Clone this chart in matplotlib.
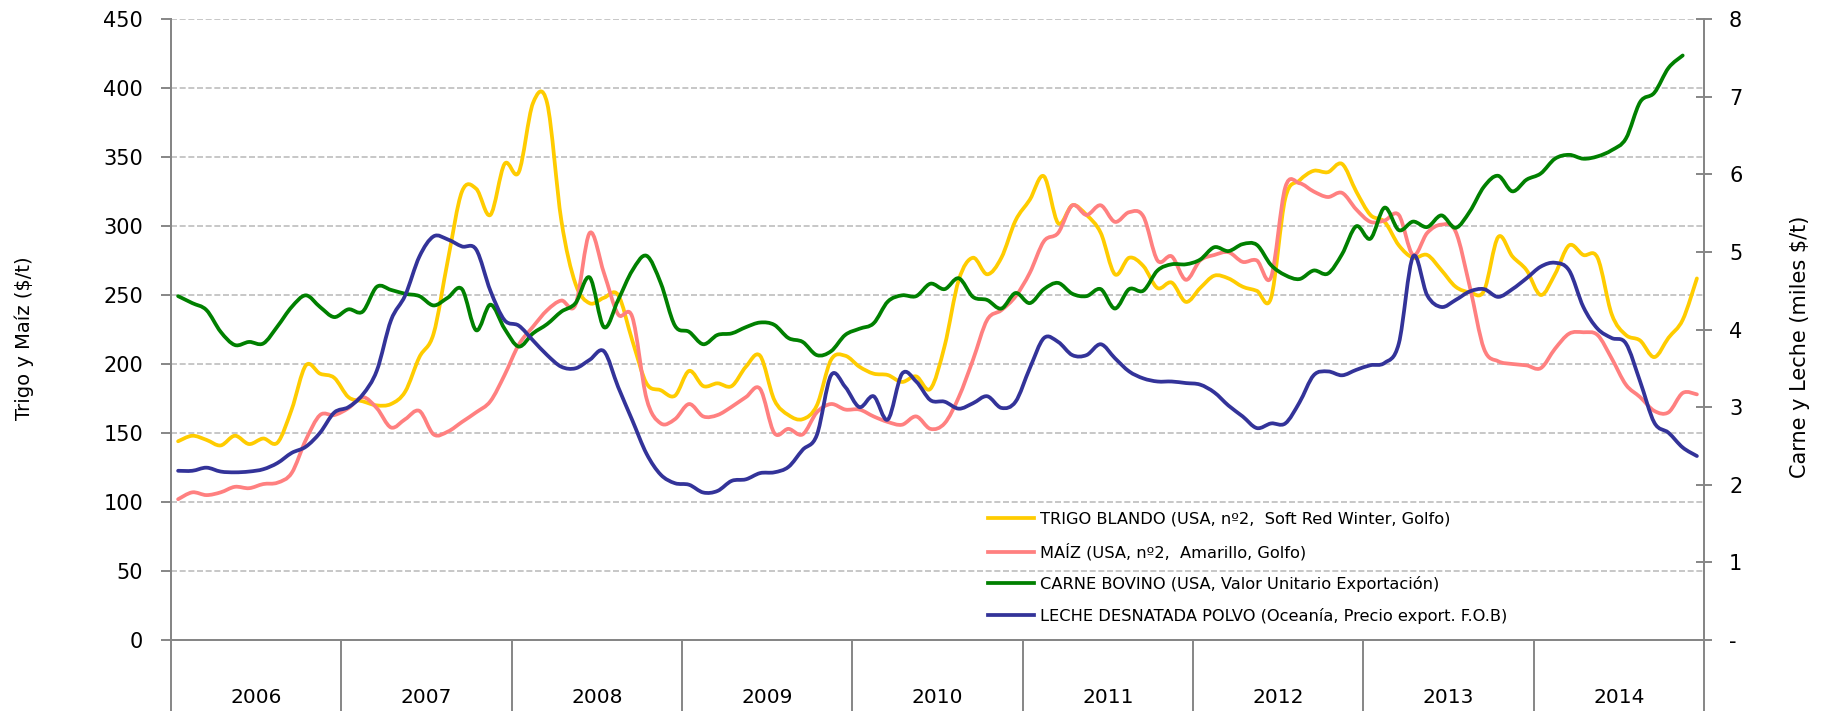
import matplotlib
matplotlib.use("Agg")
import matplotlib.pyplot as plt
from matplotlib.path import Path
from matplotlib.patches import PathPatch
from matplotlib.lines import Line2D
import matplotlib.transforms as mtransforms
import numpy as np

# ---------------- data (monthly, Jan 2006 - Dec 2014) ----------------
years = ["2006", "2007", "2008", "2009", "2010", "2011", "2012", "2013", "2014"]

trigo = [144, 148, 145, 141, 148, 142, 146, 143, 167, 199, 193, 190, 176, 173, 170, 171, 180, 205,
         222, 275, 325, 327, 308, 345, 339, 389, 389, 304, 258, 244, 248, 250, 217, 186, 181, 177,
         195, 184, 186, 184, 198, 206, 174, 163, 160, 170, 203, 206, 198, 193, 192, 187, 191, 182,
         213, 261, 277, 265, 277, 304, 319, 336, 302, 315, 308, 295, 265, 277, 271, 255, 259, 245,
         255, 264, 262, 256, 253, 248, 320, 333, 340, 339, 345, 325, 308, 303, 286, 277, 279, 268,
         256, 252, 253, 292, 278, 268, 250, 265, 286, 279, 277, 236, 221, 217, 205, 219, 232, 262]

maiz = [102, 107, 105, 107, 111, 110, 113, 114, 121, 145, 163, 163, 168, 176, 168, 154, 160, 166,
        149, 151, 158, 165, 173, 192, 214, 227, 239, 246, 243, 295, 266, 236, 234, 175, 157, 160,
        171, 162, 163, 169, 176, 182, 150, 153, 149, 165, 171, 167, 167, 162, 158, 156, 162, 153,
        157, 176, 203, 232, 239, 249, 266, 289, 295, 315, 308, 315, 303, 310, 307, 275, 278, 261,
        275, 279, 281, 274, 275, 263, 328, 331, 325, 321, 324, 312, 303, 304, 308, 279, 295, 301,
        296, 256, 211, 202, 200, 199, 197, 211, 222, 223, 221, 204, 185, 176, 166, 165, 179, 178]

carne = [4.43, 4.34, 4.25, 3.97, 3.80, 3.84, 3.82, 4.04, 4.29, 4.44, 4.29, 4.16, 4.26, 4.23, 4.55, 4.51, 4.46, 4.43,
         4.31, 4.41, 4.52, 3.99, 4.32, 4.01, 3.78, 3.95, 4.07, 4.23, 4.34, 4.67, 4.03, 4.38, 4.76, 4.95, 4.60, 4.05,
         3.97, 3.81, 3.93, 3.95, 4.03, 4.09, 4.06, 3.89, 3.84, 3.67, 3.72, 3.93, 4.01, 4.08, 4.36, 4.44, 4.43, 4.59,
         4.52, 4.66, 4.42, 4.38, 4.27, 4.47, 4.34, 4.52, 4.60, 4.46, 4.43, 4.52, 4.27, 4.52, 4.50, 4.76, 4.84, 4.84,
         4.90, 5.06, 5.01, 5.10, 5.09, 4.83, 4.70, 4.65, 4.76, 4.72, 4.97, 5.33, 5.17, 5.57, 5.28, 5.39, 5.32, 5.47,
         5.31, 5.52, 5.84, 5.98, 5.78, 5.93, 6.01, 6.20, 6.25, 6.20, 6.23, 6.31, 6.46, 6.93, 7.05, 7.37, 7.53]

leche = [2.18, 2.18, 2.22, 2.17, 2.16, 2.17, 2.20, 2.28, 2.41, 2.49, 2.67, 2.93, 3.00, 3.16, 3.47, 4.12, 4.44, 4.94,
         5.20, 5.16, 5.07, 5.03, 4.50, 4.12, 4.05, 3.86, 3.67, 3.52, 3.50, 3.61, 3.72, 3.26, 2.83, 2.40, 2.13, 2.02,
         2.00, 1.90, 1.92, 2.05, 2.07, 2.15, 2.16, 2.23, 2.45, 2.64, 3.41, 3.26, 3.00, 3.14, 2.84, 3.43, 3.33, 3.09,
         3.07, 2.98, 3.05, 3.14, 2.99, 3.07, 3.50, 3.89, 3.84, 3.67, 3.67, 3.81, 3.63, 3.46, 3.37, 3.33, 3.33, 3.31,
         3.29, 3.19, 3.02, 2.88, 2.73, 2.79, 2.79, 3.06, 3.41, 3.46, 3.41, 3.48, 3.54, 3.57, 3.82, 4.94, 4.44, 4.29,
         4.38, 4.49, 4.52, 4.42, 4.52, 4.66, 4.81, 4.86, 4.76, 4.29, 4.01, 3.89, 3.82, 3.33, 2.80, 2.67, 2.48, 2.37]

labels = ["TRIGO BLANDO (USA, n\u00ba2,  Soft Red Winter, Golfo)",
          "MA\u00cdZ (USA, n\u00ba2,  Amarillo, Golfo)",
          "CARNE BOVINO (USA, Valor Unitario Exportaci\u00f3n)",
          "LECHE DESNATADA POLVO (Ocean\u00eda, Precio export. F.O.B)"]
colors = ["#FFCC00", "#FF8080", "#008000", "#333399"]

left_ticks = [0, 50, 100, 150, 200, 250, 300, 350, 400, 450]
right_ticks = [0, 1, 2, 3, 4, 5, 6, 7, 8]
right_ticklabels = ["-", "1", "2", "3", "4", "5", "6", "7", "8"]

# ---------------- helpers ----------------
def smooth_path(yvals):
    """Excel-like smoothed line: cubic Bezier through the monthly points."""
    x = np.arange(len(yvals)) + 0.5
    y = np.asarray(yvals, dtype=float)
    n = len(x)
    P = np.column_stack([x, y])
    verts = [tuple(P[0])]
    codes = [Path.MOVETO]
    for i in range(n - 1):
        pm = P[max(i - 1, 0)]
        p0 = P[i]
        p1 = P[i + 1]
        p2 = P[min(i + 2, n - 1)]
        c1 = p0 + (p1 - pm) / 6.0
        c2 = p1 - (p2 - p0) / 6.0
        verts += [tuple(c1), tuple(c2), tuple(p1)]
        codes += [Path.CURVE4] * 3
    return Path(verts, codes)

LW = 2.7

# ---------------- figure ----------------
fig = plt.figure(figsize=(18.23, 7.11), dpi=100)
ax = fig.add_axes([171 / 1823, 71 / 711, 1533 / 1823, 621 / 711])
ax2 = ax.twinx()

ax.set_xlim(0, 108)
ax.set_ylim(0, 450)
ax2.set_ylim(0, 8)

# grid
for v in left_ticks[1:]:
    ax.axhline(v, color="#BEBEBE", lw=1.2, linestyle=(0, (3.6, 1.6)), zorder=0)

# series
ax.add_patch(PathPatch(smooth_path(trigo), fill=False, edgecolor=colors[0], lw=LW,
                       capstyle="round", joinstyle="round", zorder=3))
ax.add_patch(PathPatch(smooth_path(maiz), fill=False, edgecolor=colors[1], lw=LW,
                       capstyle="round", joinstyle="round", zorder=4))
ax2.add_patch(PathPatch(smooth_path(carne), fill=False, edgecolor=colors[2], lw=LW,
                        capstyle="round", joinstyle="round", zorder=3))
ax2.add_patch(PathPatch(smooth_path(leche), fill=False, edgecolor=colors[3], lw=LW,
                        capstyle="round", joinstyle="round", zorder=4))

# spines
spine_c = "#868686"
for a in (ax, ax2):
    a.spines["top"].set_visible(False)
    for s in ("left", "right", "bottom"):
        a.spines[s].set_color(spine_c)
        a.spines[s].set_linewidth(1.4)

# x axis: year blocks
ax.set_xticks([])
trans = mtransforms.blended_transform_factory(ax.transData, ax.transAxes)
for k in range(len(years) + 1):
    ax.plot([12 * k, 12 * k], [0, -0.12], transform=trans, color=spine_c, lw=1.4,
            clip_on=False, solid_capstyle="butt")
for k, yr in enumerate(years):
    ax.text(12 * k + 6, -0.093, yr, transform=trans, ha="center", va="center",
            fontsize=14.5, color="black")

# y ticks
ax.set_yticks(left_ticks)
ax.set_yticklabels([str(v) for v in left_ticks])
ax.tick_params(axis="y", direction="out", length=7, width=1.4, color=spine_c,
               labelsize=15, pad=13, labelcolor="black")
ax2.set_yticks(right_ticks)
ax2.set_yticklabels(right_ticklabels)
ax2.tick_params(axis="y", direction="inout", length=12, width=1.4, color=spine_c,
                labelsize=15, pad=12, labelcolor="black")

# axis titles
fig.text(24.5 / 1823, 1 - 338 / 711, "Trigo y Ma\u00edz ($/t)", rotation=90,
         ha="center", va="center", fontsize=14)
fig.text(1800 / 1823, 1 - 347 / 711, "Carne y Leche (miles $/t)", rotation=90,
         ha="center", va="center", fontsize=15)

# legend
handles = [Line2D([], [], color=c, lw=LW) for c in colors]
leg = ax2.legend(handles, labels, loc="upper left",
                 bbox_to_anchor=(988 / 1823, 1 - 512 / 711),
                 bbox_transform=fig.transFigure, frameon=False, fontsize=11.7,
                 handlelength=2.83, handletextpad=0.37, labelspacing=0.97,
                 borderpad=0, borderaxespad=0)
leg.set_zorder(10)

fig.savefig("out.png", dpi=100, facecolor="white")
